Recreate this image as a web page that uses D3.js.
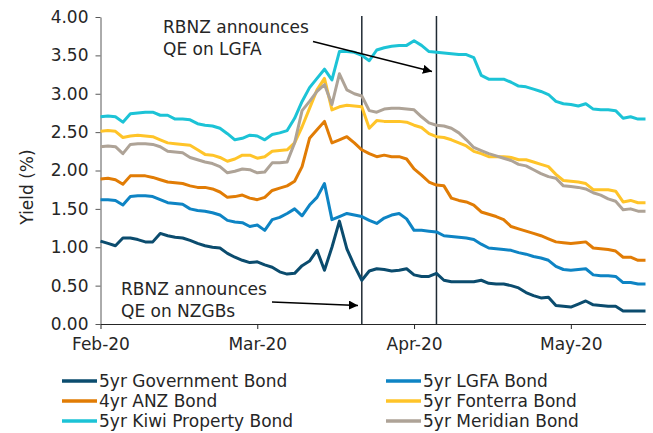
<!DOCTYPE html>
<html>
<head>
<meta charset="utf-8">
<script src="https://cdn.jsdelivr.net/npm/d3@7"></script>
<style>
  body { margin: 0; background: #fff; }
  svg text { font-family: "DejaVu Sans", Verdana, sans-serif; fill: #262626; }
</style>
</head>
<body>
<div id="chart"></div>
<script>
// trading days shown on the category axis (Good Friday left out)
const dates = [
  "2020-02-03","2020-02-04","2020-02-05","2020-02-06","2020-02-07","2020-02-10","2020-02-11","2020-02-12","2020-02-13","2020-02-14",
  "2020-02-17","2020-02-18","2020-02-19","2020-02-20","2020-02-21","2020-02-24","2020-02-25","2020-02-26","2020-02-27","2020-02-28",
  "2020-03-02","2020-03-03","2020-03-04","2020-03-05","2020-03-06","2020-03-09","2020-03-10","2020-03-11","2020-03-12","2020-03-13",
  "2020-03-16","2020-03-17","2020-03-18","2020-03-19","2020-03-20","2020-03-23","2020-03-24","2020-03-25","2020-03-26","2020-03-27",
  "2020-03-30","2020-03-31","2020-04-01","2020-04-02","2020-04-03","2020-04-06","2020-04-07","2020-04-08","2020-04-09","2020-04-13",
  "2020-04-14","2020-04-15","2020-04-16","2020-04-17","2020-04-20","2020-04-21","2020-04-22","2020-04-23","2020-04-24","2020-04-27",
  "2020-04-28","2020-04-29","2020-04-30","2020-05-01","2020-05-04","2020-05-05","2020-05-06","2020-05-07","2020-05-08","2020-05-11",
  "2020-05-12","2020-05-13","2020-05-14","2020-05-15"
];

const govt = [1.08,1.05,1.02,1.12,1.12,1.10,1.07,1.07,1.18,1.15,
  1.13,1.12,1.09,1.05,1.02,1.00,0.99,0.92,0.87,0.83,
  0.80,0.81,0.77,0.74,0.68,0.65,0.66,0.76,0.82,0.96,
  0.70,1.00,1.34,0.98,0.76,0.57,0.69,0.72,0.71,0.69,
  0.70,0.72,0.64,0.62,0.62,0.66,0.57,0.55,0.55,0.55,
  0.55,0.57,0.53,0.52,0.52,0.50,0.47,0.41,0.37,0.34,
  0.35,0.24,0.23,0.22,0.26,0.30,0.25,0.24,0.23,0.23,
  0.17,0.17,0.17,0.17];
const lgfa = [1.62,1.62,1.61,1.55,1.66,1.67,1.67,1.66,1.62,1.58,
  1.57,1.56,1.50,1.48,1.47,1.45,1.42,1.35,1.33,1.32,
  1.27,1.29,1.22,1.36,1.39,1.44,1.50,1.41,1.55,1.65,
  1.83,1.36,1.40,1.44,1.42,1.40,1.35,1.31,1.38,1.42,
  1.44,1.37,1.22,1.22,1.21,1.20,1.15,1.14,1.13,1.12,
  1.10,1.04,0.99,0.98,0.97,0.96,0.93,0.91,0.88,0.86,
  0.83,0.75,0.71,0.70,0.71,0.72,0.64,0.63,0.63,0.62,
  0.54,0.54,0.52,0.52];
const anz = [1.89,1.90,1.88,1.82,1.93,1.93,1.93,1.91,1.88,1.85,
  1.84,1.83,1.80,1.78,1.78,1.76,1.72,1.65,1.66,1.68,
  1.64,1.62,1.65,1.74,1.77,1.80,1.86,2.05,2.42,2.53,
  2.64,2.36,2.40,2.44,2.36,2.27,2.22,2.18,2.20,2.18,
  2.18,2.15,2.02,1.94,1.85,1.81,1.80,1.64,1.61,1.59,
  1.55,1.46,1.43,1.40,1.36,1.27,1.24,1.21,1.18,1.15,
  1.11,1.07,1.06,1.05,1.06,1.07,0.99,0.98,0.97,0.95,
  0.87,0.87,0.83,0.83];
const fonterra = [2.51,2.52,2.51,2.43,2.45,2.46,2.45,2.44,2.40,2.36,
  2.35,2.34,2.33,2.27,2.21,2.20,2.17,2.12,2.15,2.20,
  2.20,2.16,2.18,2.25,2.26,2.27,2.36,2.57,2.81,3.05,
  3.20,2.79,2.83,2.85,2.84,2.83,2.55,2.65,2.64,2.64,
  2.64,2.63,2.59,2.56,2.48,2.44,2.43,2.40,2.36,2.32,
  2.25,2.22,2.18,2.18,2.18,2.17,2.14,2.14,2.11,2.08,
  2.05,1.95,1.87,1.86,1.85,1.83,1.75,1.75,1.75,1.73,
  1.59,1.61,1.58,1.58];
const kiwi = [2.70,2.71,2.70,2.63,2.74,2.75,2.76,2.76,2.72,2.72,
  2.67,2.67,2.66,2.61,2.59,2.58,2.55,2.48,2.40,2.42,
  2.46,2.45,2.40,2.47,2.49,2.52,2.68,2.90,3.08,3.20,
  3.32,3.18,3.55,3.55,3.54,3.50,3.43,3.57,3.60,3.62,
  3.63,3.63,3.69,3.63,3.55,3.54,3.53,3.52,3.51,3.51,
  3.47,3.24,3.19,3.19,3.19,3.15,3.10,3.09,3.06,3.03,
  2.99,2.90,2.87,2.86,2.84,2.87,2.80,2.79,2.79,2.78,
  2.68,2.70,2.67,2.67];
const meridian = [2.31,2.32,2.31,2.22,2.34,2.35,2.35,2.34,2.31,2.25,
  2.24,2.23,2.17,2.14,2.11,2.09,2.05,1.97,1.99,2.02,
  2.01,1.97,1.98,2.10,2.10,2.11,2.36,2.78,2.90,3.03,
  3.12,2.86,3.26,3.05,3.00,2.97,2.78,2.76,2.80,2.81,
  2.81,2.80,2.79,2.70,2.62,2.59,2.58,2.55,2.49,2.40,
  2.30,2.26,2.22,2.19,2.16,2.13,2.08,2.06,2.01,1.96,
  1.92,1.90,1.80,1.79,1.78,1.76,1.71,1.68,1.63,1.60,
  1.49,1.50,1.47,1.47];

const seriesNames = ["5yr Government Bond", "5yr LGFA Bond", "4yr ANZ Bond",
  "5yr Fonterra Bond", "5yr Kiwi Property Bond", "5yr Meridian Bond"];
const seriesColors = ["#0b4c6e", "#0e84c4", "#e17c05", "#ffc429", "#1cc3d6", "#aea397"];
const seriesValues = [govt, lgfa, anz, fonterra, kiwi, meridian];

const yTicks = [0, 0.5, 1, 1.5, 2, 2.5, 3, 3.5, 4];
const xTickDates = ["2020-02-03", "2020-03-03", "2020-04-01", "2020-05-01"];
const events = [
  { date: "2020-03-23", text: ["RBNZ announces", "QE on NZGBs"] },
  { date: "2020-04-06", text: ["RBNZ announces", "QE on LGFA"] }
];

const width = 653;
const height = 433;
const margin = { top: 17, right: 7.5, bottom: 109, left: 100.5 };

const parse = d3.timeParse("%Y-%m-%d");
const fmt = d3.timeFormat("%b-%y");

const svg = d3.select("#chart").append("svg")
  .attr("width", width)
  .attr("height", height);

const x = d3.scalePoint()
  .domain(dates)
  .range([margin.left, width - margin.right]);
const y = d3.scaleLinear()
  .domain([0, 4])
  .range([height - margin.bottom, margin.top]);

// axes
const yAxis = svg.append("g")
  .attr("transform", `translate(${margin.left},0)`)
  .call(d3.axisLeft(y).tickValues(yTicks).tickFormat(d3.format(".2f")).tickSize(5).tickSizeOuter(0).tickPadding(7));
yAxis.selectAll("text").style("font-size", "17px");
yAxis.selectAll("line, path").attr("stroke", "#595959");

const xAxis = svg.append("g")
  .attr("transform", `translate(0,${height - margin.bottom})`)
  .call(d3.axisBottom(x).tickValues(xTickDates).tickFormat(d => fmt(parse(d))).tickSize(5).tickSizeOuter(0).tickPadding(9));
xAxis.selectAll("text").style("font-size", "17px");
xAxis.selectAll("line, path").attr("stroke", "#262626");

svg.append("text")
  .attr("transform", "translate(33,187) rotate(-90)")
  .attr("text-anchor", "middle")
  .style("font-size", "17px")
  .text("Yield (%)");

// event lines
svg.append("g").selectAll("line")
  .data(events)
  .join("line")
  .attr("x1", d => x(d.date))
  .attr("x2", d => x(d.date))
  .attr("y1", y(4) - 1)
  .attr("y2", y(0))
  .attr("stroke", "#1f2a33")
  .attr("stroke-width", 1.5);

// series lines
const line = d3.line()
  .x((d, i) => x(dates[i]))
  .y(d => y(d));

svg.append("g").selectAll("path")
  .data(seriesValues)
  .join("path")
  .attr("fill", "none")
  .attr("stroke", (d, i) => seriesColors[i])
  .attr("stroke-width", 3)
  .attr("stroke-linejoin", "round")
  .attr("d", line);

// annotations
svg.append("defs").append("marker")
  .attr("id", "arrow")
  .attr("viewBox", "0 0 10 10")
  .attr("refX", 10)
  .attr("refY", 5)
  .attr("markerWidth", 7)
  .attr("markerHeight", 7)
  .attr("orient", "auto")
  .append("path")
  .attr("d", "M0,0L10,5L0,10z")
  .attr("fill", "#000");

const notePos = [
  { tx: 121, ty: 295, from: [272, 302], to: [358, 305.5] },
  { tx: 163, ty: 33, from: [313, 41.5], to: [432, 71.5] }
];

events.forEach((ev, i) => {
  const p = notePos[i];
  const t = svg.append("text")
    .attr("x", p.tx)
    .attr("y", p.ty)
    .style("font-size", "17px");
  ev.text.forEach((s, j) => {
    t.append("tspan").attr("x", p.tx).attr("dy", j === 0 ? 0 : 22).text(s);
  });
  svg.append("line")
    .attr("x1", p.from[0]).attr("y1", p.from[1])
    .attr("x2", p.to[0]).attr("y2", p.to[1])
    .attr("stroke", "#000")
    .attr("stroke-width", 1.3)
    .attr("marker-end", "url(#arrow)");
});

// legend
const legend = svg.append("g");
const legendItems = legend.selectAll("g")
  .data(seriesNames)
  .join("g")
  .attr("transform", (d, i) => `translate(${i % 2 === 0 ? 62 : 386},${381 + Math.floor(i / 2) * 20})`);
legendItems.append("line")
  .attr("x1", 0).attr("x2", 35)
  .attr("stroke", (d, i) => seriesColors[i])
  .attr("stroke-width", 3.5);
legendItems.append("text")
  .attr("x", 37)
  .attr("dy", "0.35em")
  .style("font-size", "17px")
  .text(d => d);
</script>
</body>
</html>
